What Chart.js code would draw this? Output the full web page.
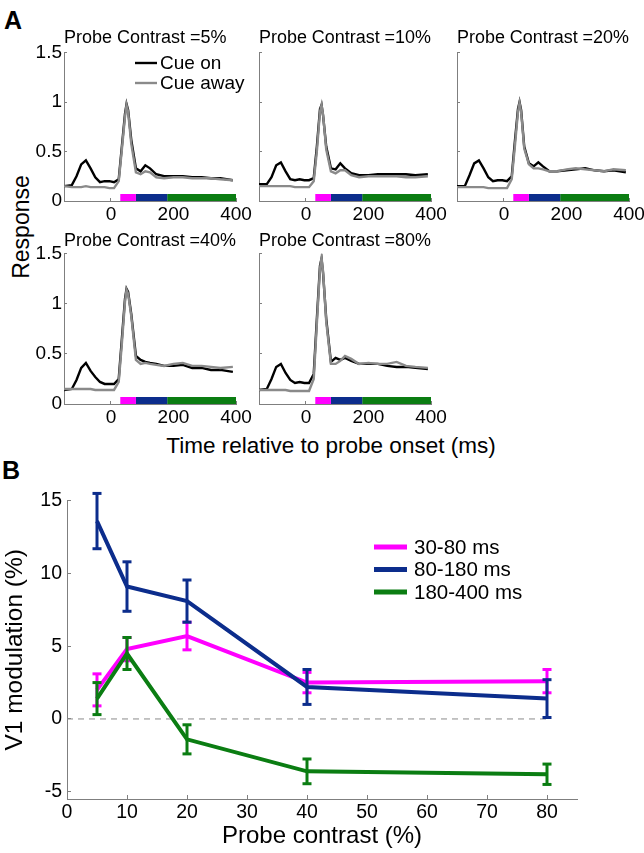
<!DOCTYPE html>
<html>
<head>
<meta charset="utf-8">
<script src="https://cdn.jsdelivr.net/npm/chart.js@4.4.0/dist/chart.umd.min.js"></script>
<style>
  body { margin:0; width:644px; height:853px; overflow:hidden; background:#fff; position:relative;
         font-family:"Liberation Sans", Arial, sans-serif; }
  canvas { position:absolute; }
  .lbl { position:absolute; white-space:nowrap; line-height:1; color:#000; }
</style>
</head>
<body>
<div class="lbl" style="left:4px;top:8px;font-size:25px;font-weight:bold">A</div>
<div class="lbl" style="left:2px;top:458px;font-size:25px;font-weight:bold">B</div>
<div class="lbl" style="left:21px;top:227px;font-size:23px;transform:translate(-50%,-50%) rotate(-90deg)">Response</div>
<div class="lbl" style="left:331px;top:435px;font-size:22.5px;transform:translateX(-50%)">Time relative to probe onset (ms)</div>

<script>
var FONT = '"Liberation Sans", Arial, sans-serif';
var AXIS_GREY = '#7f7f7f';

// ---- panel A: responses ----
var timeMs    = [-150,-125,-110,-95,-80,-65,-50,-35,-20,-5,10,25,35,45,50,55,65,80,95,110,125,145,170,200,230,260,290,320,350,390];
var timeTicks = [0, 200, 400];
var respTicks = [0, 0.5, 1, 1.5];

var cueOn5    = [0.15,0.16,0.25,0.37,0.41,0.33,0.24,0.19,0.20,0.20,0.19,0.22,0.55,0.88,0.98,0.92,0.62,0.33,0.30,0.36,0.33,0.27,0.25,0.25,0.25,0.24,0.24,0.23,0.23,0.21];
var cueAway5  = [0.15,0.14,0.14,0.14,0.15,0.14,0.14,0.14,0.14,0.13,0.13,0.20,0.52,0.85,0.97,0.90,0.58,0.29,0.27,0.30,0.29,0.24,0.23,0.24,0.24,0.23,0.23,0.23,0.22,0.21];
var cueOn10   = [0.17,0.17,0.24,0.36,0.39,0.30,0.22,0.21,0.22,0.21,0.21,0.23,0.55,0.93,0.97,0.86,0.55,0.33,0.32,0.38,0.33,0.28,0.26,0.26,0.27,0.27,0.27,0.27,0.26,0.27];
var cueAway10 = [0.15,0.15,0.15,0.15,0.15,0.15,0.15,0.14,0.14,0.14,0.14,0.20,0.50,0.90,0.97,0.87,0.52,0.30,0.28,0.31,0.31,0.26,0.24,0.25,0.25,0.25,0.25,0.24,0.24,0.25];
var cueOn20   = [0.15,0.15,0.26,0.38,0.41,0.33,0.24,0.20,0.21,0.21,0.20,0.25,0.60,0.93,1.00,0.92,0.55,0.38,0.35,0.39,0.35,0.30,0.30,0.31,0.32,0.33,0.31,0.30,0.31,0.29];
var cueAway20 = [0.14,0.14,0.14,0.14,0.14,0.14,0.13,0.13,0.13,0.13,0.13,0.22,0.55,0.90,0.99,0.90,0.53,0.37,0.33,0.33,0.32,0.30,0.30,0.32,0.33,0.32,0.31,0.30,0.32,0.31];
var cueOn40   = [0.14,0.15,0.24,0.36,0.41,0.33,0.27,0.22,0.20,0.20,0.20,0.25,0.65,1.05,1.15,1.12,0.90,0.48,0.44,0.42,0.41,0.40,0.38,0.38,0.39,0.36,0.36,0.34,0.34,0.32];
var cueAway40 = [0.15,0.15,0.15,0.15,0.15,0.15,0.14,0.14,0.14,0.14,0.14,0.22,0.60,1.02,1.14,1.10,0.88,0.44,0.40,0.41,0.40,0.39,0.38,0.40,0.41,0.38,0.38,0.37,0.36,0.37];
var cueOn80   = [0.14,0.15,0.25,0.37,0.40,0.31,0.24,0.21,0.22,0.21,0.21,0.30,0.85,1.38,1.45,1.30,0.85,0.42,0.46,0.44,0.46,0.43,0.40,0.40,0.40,0.38,0.37,0.37,0.36,0.35];
var cueAway80 = [0.14,0.14,0.14,0.14,0.14,0.14,0.13,0.13,0.13,0.13,0.13,0.25,0.80,1.35,1.46,1.32,0.82,0.40,0.40,0.43,0.48,0.45,0.40,0.41,0.40,0.40,0.42,0.38,0.37,0.36];

var windowStart = [30, 80, 180];
var windowEnd   = [80, 180, 400];
var windowNames = ['30-80 ms', '80-180 ms', '180-400 ms'];
var windowColors = ['#ff00ff', '#0c2d8c', '#0b7d12'];

// ---- panel B: modulation ----
var probeContrast = [5, 10, 20, 40, 80];
var mod30_80   = [2.0, 4.8, 5.7, 2.5, 2.6];
var err30_80   = [1.1, 0.8, 0.95, 0.7, 0.8];
var mod80_180  = [13.6, 9.1, 8.1, 2.2, 1.4];
var err80_180  = [1.9, 1.7, 1.45, 1.2, 1.3];
var mod180_400 = [1.4, 4.5, -1.4, -3.6, -3.8];
var err180_400 = [1.1, 1.1, 1.0, 0.85, 0.7];
var contrastTicks = [0, 10, 20, 30, 40, 50, 60, 70, 80];
var modTicks = [-5, 0, 5, 10, 15];

Chart.defaults.font.family = FONT;
Chart.defaults.color = '#000';

// small legend drawn inside the plot area
var inlineLegend = {
  id: 'inlineLegend',
  afterDraw: function(chart, args, opts) {
    if (!opts || !opts.entries) return;
    var ctx = chart.ctx;
    ctx.save();
    ctx.font = opts.fontSize + 'px ' + FONT;
    ctx.textBaseline = 'middle';
    ctx.fillStyle = '#000';
    opts.entries.forEach(function(di, k) {
      var ds = chart.data.datasets[di];
      var y = opts.y + k * opts.rowH;
      ctx.strokeStyle = ds.borderColor;
      ctx.lineWidth = opts.lineWidth;
      ctx.beginPath();
      ctx.moveTo(opts.x, y);
      ctx.lineTo(opts.x + opts.lineLen, y);
      ctx.stroke();
      ctx.fillText(ds.label, opts.x + opts.lineLen + opts.gap, y + 1);
    });
    ctx.restore();
  }
};

function addCanvas(left, top, w, h) {
  var c = document.createElement('canvas');
  c.width = w; c.height = h;
  c.style.left = left + 'px'; c.style.top = top + 'px';
  c.style.width = w + 'px'; c.style.height = h + 'px';
  document.body.appendChild(c);
  return c;
}

function xy(xs, ys) {
  return xs.map(function(x, i) { return {x: x, y: ys[i]}; });
}

function responsePanel(p) {
  var canvas = addCanvas(p.left, p.top, p.w, p.h);
  var datasets = [
    {label:'Cue away', data: xy(timeMs, p.away), borderColor:'#8a8a8a', borderWidth:2.4, pointRadius:0, order:0},
    {label:'Cue on', data: xy(timeMs, p.on), borderColor:'#000', borderWidth:2.4, pointRadius:0, order:1}
  ];
  for (var i = 0; i < windowStart.length; i++) {
    datasets.push({label: windowNames[i], data:[{x:windowStart[i], y:0.036}, {x:windowEnd[i], y:0.036}],
      borderColor: windowColors[i], borderWidth:7, borderCapStyle:'butt', pointRadius:0, order:2});
  }
  new Chart(canvas, {
    type: 'line',
    data: {datasets: datasets},
    plugins: [inlineLegend],
    options: {
      responsive:false, animation:false, events:[],
      layout: {padding: {top: p.padTop, right: p.padRight, left:0, bottom:0}},
      plugins: {
        legend: {display:false}, tooltip: {enabled:false},
        title: {display:true, text:'Probe Contrast =' + p.contrast, align:'start', fullSize:false,
                color:'#000', font:{size:18, weight:'normal'}, padding:{top:0, bottom:p.titleGap}},
        inlineLegend: p.legend || false
      },
      scales: {
        x: {type:'linear', min:-150, max:400,
            afterBuildTicks: function(s) { s.ticks = timeTicks.map(function(v){ return {value:v}; }); },
            afterFit: function(s) { s.height = 30; s.paddingLeft = 0; s.paddingRight = 0; },
            border: {color:AXIS_GREY},
            grid: {drawOnChartArea:false, tickLength:-3, color:AXIS_GREY},
            ticks: {font:{size:19}, padding:5, maxRotation:0, autoSkip:false}},
        y: {min:0, max:1.5,
            afterBuildTicks: function(s) { s.ticks = respTicks.map(function(v){ return {value:v}; }); },
            afterFit: function(s) { s.width = 45; s.paddingTop = 0; s.paddingBottom = 0; },
            border: {color:AXIS_GREY},
            grid: {drawOnChartArea:false, tickLength:-3, color:AXIS_GREY},
            ticks: {display:p.showY, font:{size:19}, padding:5, callback: function(v){ return String(v); }}}
      }
    }
  });
}

var cueLegend = {entries:[1, 0], x:116, y:63, rowH:20, lineLen:22, gap:3, lineWidth:2.4, fontSize:19};

responsePanel({left:19,  top:0,   w:241, h:231, padTop:26.9, padRight:24, titleGap:4,   contrast:'5%',  on:cueOn5,  away:cueAway5,  showY:true, legend:cueLegend});
responsePanel({left:214, top:0,   w:241, h:231, padTop:26.9, padRight:24, titleGap:4,   contrast:'10%', on:cueOn10, away:cueAway10, showY:false});
responsePanel({left:412, top:0,   w:232, h:231, padTop:26.9, padRight:15, titleGap:4,   contrast:'20%', on:cueOn20, away:cueAway20, showY:false});
responsePanel({left:19,  top:210, w:241, h:224, padTop:20.6, padRight:24, titleGap:1.5, contrast:'40%', on:cueOn40, away:cueAway40, showY:true});
responsePanel({left:214, top:210, w:241, h:224, padTop:20.6, padRight:24, titleGap:1.5, contrast:'80%', on:cueOn80, away:cueAway80, showY:false});

// ---- panel B ----
var modSeries = [mod30_80, mod80_180, mod180_400];
var errSeries = [err30_80, err80_180, err180_400];
var drawOrder = [2, 1, 0];

var bData = [];
for (var s = 0; s < modSeries.length; s++) {
  bData.push({label: windowNames[s], data: xy(probeContrast, modSeries[s]), borderColor: windowColors[s],
    borderWidth:4, pointRadius:0, order: drawOrder[s]});
}
for (s = 0; s < modSeries.length; s++) {
  for (var j = 0; j < probeContrast.length; j++) {
    var m = modSeries[s][j], e = errSeries[s][j];
    bData.push({label:'', data:[{x:probeContrast[j], y:m - e}, {x:probeContrast[j], y:m + e}],
      borderColor: windowColors[s], borderWidth:3, pointStyle:'line', pointRadius:4.5,
      pointBorderWidth:3, pointBorderColor: windowColors[s], order: drawOrder[s], clip:false});
  }
}
bData.push({label:'', data:[{x:0, y:0}, {x:80, y:0}], borderColor:'#8a8a8a', borderWidth:1,
  borderDash:[6, 5], pointRadius:0, order:5});

var bCanvas = addCanvas(0, 480, 644, 373);
new Chart(bCanvas, {
  type: 'line',
  data: {datasets: bData},
  plugins: [inlineLegend],
  options: {
    responsive:false, animation:false, events:[],
    layout: {padding: {top:20.7, right:67, left:0, bottom:0}},
    plugins: {
      legend: {display:false}, tooltip: {enabled:false},
      inlineLegend: {entries:[0, 1, 2], x:374, y:67, rowH:22.5, lineLen:33, gap:7, lineWidth:5, fontSize:20.5}
    },
    scales: {
      x: {type:'linear', min:0, max:85,
          afterBuildTicks: function(s) { s.ticks = contrastTicks.map(function(v){ return {value:v}; }); },
          afterFit: function(s) { s.height = 54; s.paddingLeft = 0; s.paddingRight = 0; },
          border: {color:AXIS_GREY},
          grid: {drawOnChartArea:false, tickLength:-4, color:AXIS_GREY},
          ticks: {font:{size:19.5}, padding:6, maxRotation:0, autoSkip:false},
          title: {display:true, text:'Probe contrast (%)', color:'#000', font:{size:24}, padding:{top:0, bottom:2.6}}},
      y: {min:-5.5, max:15,
          afterBuildTicks: function(s) { s.ticks = modTicks.map(function(v){ return {value:v}; }); },
          afterFit: function(s) { s.width = 67; s.paddingTop = 0; s.paddingBottom = 0; },
          border: {color:AXIS_GREY},
          grid: {drawOnChartArea:false, tickLength:-4, color:AXIS_GREY},
          ticks: {font:{size:19.5}, padding:9, callback: function(v){ return String(v); }},
          title: {display:true, text:'V1 modulation (%)', color:'#000', font:{size:24.5}, padding:{top:0.5, bottom:0}}}
    }
  }
});
</script>
</body>
</html>
